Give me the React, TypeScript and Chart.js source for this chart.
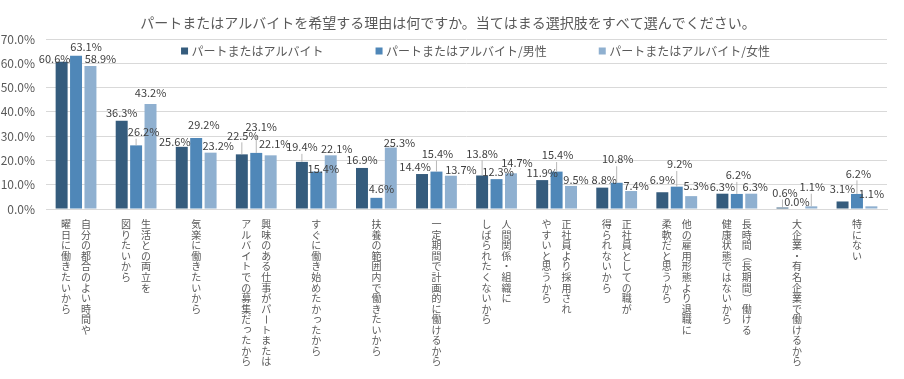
import React, { useEffect, useRef } from "react";
import { Chart, registerables } from "chart.js";

Chart.register(...registerables);

const FONT = "'Noto Sans CJK JP', 'Noto Sans', sans-serif";

const TITLE =
  "パートまたはアルバイトを希望する理由は何ですか。当てはまる選択肢をすべて選んでください。";

// Each category label: vertical columns, first entry = rightmost column
const categories: string[][] = [
  ["自分の都合のよい時間や", "曜日に働きたいから"],
  ["生活との両立を", "図りたいから"],
  ["気楽に働きたいから"],
  ["興味のある仕事がパートまたは", "アルバイトでの募集だったから"],
  ["すぐに働き始めたかったから"],
  ["扶養の範囲内で働きたいから"],
  ["一定期間で計画的に働けるから"],
  ["人間関係・組織に", "しばられたくないから"],
  ["正社員より採用され", "やすいと思うから"],
  ["正社員としての職が", "得られないから"],
  ["他の雇用形態より退職に", "柔軟だと思うから"],
  ["長時間（長期間）働ける", "健康状態ではないから"],
  ["大企業・有名企業で働けるから"],
  ["特にない"],
];

const seriesNames = [
  "パートまたはアルバイト",
  "パートまたはアルバイト/男性",
  "パートまたはアルバイト/女性",
];

const allValues = [60.6, 36.3, 25.6, 22.5, 19.4, 16.9, 14.4, 13.8, 11.9, 8.8, 6.9, 6.3, 0.6, 3.1];
const maleValues = [63.1, 26.2, 29.2, 23.1, 15.4, 4.6, 15.4, 12.3, 15.4, 10.8, 9.2, 6.2, 0.0, 6.2];
const femaleValues = [58.9, 43.2, 23.2, 22.1, 22.1, 25.3, 13.7, 14.7, 9.5, 7.4, 5.3, 6.3, 1.1, 1.1];

const yTickMin = 0;
const yTickMax = 70;
const yTickStep = 10;

const seriesColors = ["#355C7D", "#4F87B8", "#8FB0D0"];

// label nudges [dx, dy] relative to default position above each bar
const nudgeAll: number[][] = [[-7, 6], [0, 1], [-7, 4], [1, -10], [0, -6], [0, 1], [-7, 2], [0, -13], [0, 2], [2, 1.5], [0, -3], [0, 2.6], [2.5, -6], [0, -3.5]];
const nudgeMale: number[][] = [[10, 0], [7.5, -4.6], [7.6, -4], [5, -16.6], [7, 6], [5, 0], [1, -9], [1.5, 1.6], [1, -7.6], [1, -14.5], [3, -13.6], [1.6, -10], [0, 1.7], [1.4, -11.6]];
const nudgeFemale: number[][] = [[10, 2], [0, -2.3], [7.6, 2], [4, -3], [6, 2], [8.6, 4], [10, 2.6], [6, -1.6], [5, 3], [5, 3.7], [5, -1.4], [4, 2.6], [1, -10.6], [0, -3.3]];
const nudges = [nudgeAll, nudgeMale, nudgeFemale];

const ROTATE = new Set(["ー", "（", "）", "(", ")", "〜"]);
const SMALL = new Set(Array.from("っゃゅょぁぃぅぇぉッャュョァィゥェォ"));

const overlayPlugin = {
  id: "overlay",
  afterDatasetsDraw(chart: any) {
    const ctx = chart.ctx;
    ctx.save();
    ctx.font = `11px ${FONT}`;
    ctx.textAlign = "center";
    ctx.textBaseline = "middle";
    chart.data.datasets.forEach((ds: any, di: number) => {
      const meta = chart.getDatasetMeta(di);
      meta.data.forEach((bar: any, i: number) => {
        const v = ds.data[i];
        const [dx, dy] = nudges[di][i];
        const cx = bar.x + dx;
        const cy = bar.y - 9 + dy;
        const text = v.toFixed(1) + "%";
        if (dy <= -4.5) {
          const w = ctx.measureText(text).width;
          const lx = Math.min(Math.max(bar.x, cx - w / 2 + 2), cx + w / 2 - 2);
          ctx.strokeStyle = "#A6A6A6";
          ctx.lineWidth = 0.8;
          ctx.beginPath();
          ctx.moveTo(lx, cy + 7);
          ctx.lineTo(bar.x, bar.y);
          ctx.stroke();
        }
        ctx.fillStyle = "#404040";
        ctx.fillText(text, cx, cy);
      });
    });
    ctx.restore();
  },
  afterDraw(chart: any) {
    const ctx = chart.ctx;
    const area = chart.chartArea;
    const xs = chart.scales.x;
    ctx.save();
    // title
    ctx.font = `14px ${FONT}`;
    ctx.fillStyle = "#595959";
    ctx.textAlign = "center";
    ctx.textBaseline = "middle";
    ctx.fillText(TITLE, chart.width / 2 - 4, 22.5);

    // legend
    ctx.font = `12px ${FONT}`;
    const box = 7;
    const gapBoxText = 3.5;
    const gapItems = 52;
    const widths = seriesNames.map((s) => ctx.measureText(s).width);
    const total =
      widths.reduce((a, b) => a + b, 0) + seriesNames.length * (box + gapBoxText) + gapItems * (seriesNames.length - 1);
    let x = (area.left + area.right) / 2 + 9 - total / 2;
    const ly = area.top + 12;
    ctx.textAlign = "left";
    seriesNames.forEach((s, i) => {
      ctx.fillStyle = seriesColors[i];
      ctx.fillRect(x, ly - box / 2, box, box);
      ctx.fillStyle = "#595959";
      ctx.fillText(s, x + box + gapBoxText, ly);
      x += box + gapBoxText + widths[i] + gapItems;
    });

    // vertical category labels
    ctx.font = `10px ${FONT}`;
    ctx.fillStyle = "#595959";
    ctx.textAlign = "center";
    ctx.textBaseline = "middle";
    const pitch = 10.55;
    const colGap = 20;
    categories.forEach((lines, i) => {
      const cx = xs.getPixelForValue(i);
      const n = lines.length;
      lines.forEach((line, j) => {
        const colX = cx + ((n - 1) / 2 - j) * colGap;
        Array.from(line).forEach((ch, k) => {
          const y = xs.top + 15.5 + k * pitch;
          if (ROTATE.has(ch)) {
            ctx.save();
            ctx.translate(colX, y);
            ctx.rotate(Math.PI / 2);
            ctx.fillText(ch, 0, 0);
            ctx.restore();
          } else if (SMALL.has(ch)) {
            ctx.fillText(ch, colX + 1.3, y - 1.3);
          } else {
            ctx.fillText(ch, colX, y);
          }
        });
      });
    });
    ctx.restore();
  },
};

export default function App() {
  const canvasRef = useRef<HTMLCanvasElement | null>(null);

  useEffect(() => {
    document.body.style.margin = "0";
    const canvas = canvasRef.current;
    if (!canvas) return;
    const chart = new Chart(canvas, {
      type: "bar",
      data: {
        labels: categories.map((c) => c.join("")),
        datasets: [
          { label: seriesNames[0], data: allValues, backgroundColor: seriesColors[0] },
          { label: seriesNames[1], data: maleValues, backgroundColor: seriesColors[1] },
          { label: seriesNames[2], data: femaleValues, backgroundColor: seriesColors[2] },
        ],
      },
      options: {
        animation: false,
        responsive: true,
        maintainAspectRatio: false,
        devicePixelRatio: 1,
        layout: { padding: { top: 39, right: 17, bottom: 0, left: 0 } },
        datasets: {
          bar: { categoryPercentage: 0.72, barPercentage: 0.83 },
        },
        plugins: {
          legend: { display: false },
          title: { display: false },
          tooltip: { enabled: false },
        },
        scales: {
          x: {
            grid: { display: false },
            border: { display: true, color: "#D9D9D9" },
            ticks: { display: false },
            afterFit: (scale: any) => {
              scale.height = 170;
            },
          },
          y: {
            min: yTickMin,
            max: yTickMax,
            ticks: {
              stepSize: yTickStep,
              padding: 11,
              color: "#595959",
              font: { family: FONT, size: 12 },
              callback: (v: any) => Number(v).toFixed(1) + "%",
            },
            grid: { color: "#D9D9D9", drawTicks: false },
            border: { display: false },
            afterFit: (scale: any) => {
              scale.width = 46;
            },
          },
        },
      },
      plugins: [overlayPlugin],
    });
    return () => chart.destroy();
  }, []);

  return (
    <div style={{ position: "absolute", left: 0, top: 0, width: 904, height: 379, background: "#fff" }}>
      <canvas ref={canvasRef} />
    </div>
  );
}
